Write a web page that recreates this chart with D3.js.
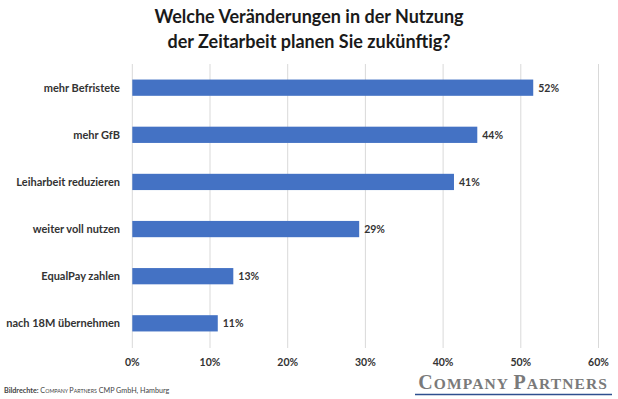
<!DOCTYPE html>
<html>
<head>
<meta charset="utf-8">
<script src="https://cdn.jsdelivr.net/npm/d3@7"></script>
<style>
  body { margin: 0; background: #fff; }
  svg { font-family: Lato, "Open Sans", sans-serif; }
</style>
</head>
<body>
<svg id="chart" width="618" height="399"></svg>
<script>
const categories = ["mehr Befristete", "mehr GfB", "Leiharbeit reduzieren",
                    "weiter voll nutzen", "EqualPay zahlen", "nach 18M übernehmen"]
const values = [51.6, 44.4, 41.4, 29.2, 13.0, 11.0]
const ticks = [0, 10, 20, 30, 40, 50, 60]
const titleLines = ["Welche Veränderungen in der Nutzung", "der Zeitarbeit planen Sie zukünftig?"]

const svg = d3.select("#chart")

let x = d3.scaleLinear().domain([0, 60]).range([132.3, 598.5])
let y = d3.scaleBand().domain(categories).range([64, 347]).paddingInner(0.655).paddingOuter(0.33)

// title
svg.append("g").selectAll("text")
  .data(titleLines)
  .enter().append("text")
  .attr("x", 309)
  .attr("y", (d, i) => 23 + i * 24.5)
  .attr("text-anchor", "middle")
  .attr("font-size", 18)
  .attr("font-weight", "bold")
  .attr("fill", "#1a1a1a")
  .text(d => d)

// grid
svg.append("g").selectAll("line")
  .data(ticks)
  .enter().append("line")
  .attr("x1", d => x(d)).attr("x2", d => x(d))
  .attr("y1", 64).attr("y2", 348)
  .attr("stroke", "#d9d9d9")
  .attr("stroke-width", 1)

// x axis labels
svg.append("g").selectAll("text")
  .data(ticks)
  .enter().append("text")
  .attr("x", d => x(d))
  .attr("y", 366)
  .attr("text-anchor", "middle")
  .attr("font-size", 10.5)
  .attr("font-weight", "bold")
  .attr("fill", "#333")
  .text(d => d + "%")

// bars
svg.append("g").selectAll("rect")
  .data(values)
  .enter().append("rect")
  .attr("x", x(0))
  .attr("y", (d, i) => y(categories[i]))
  .attr("width", d => x(d) - x(0))
  .attr("height", y.bandwidth())
  .attr("fill", "#4472c4")

// category labels
svg.append("g").selectAll("text")
  .data(categories)
  .enter().append("text")
  .attr("x", 120)
  .attr("y", d => y(d) + y.bandwidth() / 2 + 4)
  .attr("text-anchor", "end")
  .attr("font-size", 11)
  .attr("font-weight", "bold")
  .attr("fill", "#333")
  .text(d => d)

// value labels
svg.append("g").selectAll("text")
  .data(values)
  .enter().append("text")
  .attr("x", d => x(d) + 5)
  .attr("y", (d, i) => y(categories[i]) + y.bandwidth() / 2 + 4)
  .attr("font-size", 10.5)
  .attr("font-weight", "bold")
  .attr("fill", "#333")
  .text(d => Math.round(d) + "%")

// footer
let foot = svg.append("text")
  .attr("x", 4).attr("y", 393)
  .attr("font-size", 7.2)
  .attr("fill", "#444")
foot.append("tspan").attr("font-weight", "bold").text("Bildrechte: ")
foot.append("tspan").text("C").append("tspan").attr("font-size", 5.3).text("OMPANY ")
foot.append("tspan").text("P").append("tspan").attr("font-size", 5.3).text("ARTNERS")
foot.append("tspan").text(" CMP GmbH, Hamburg")

// logo
let logo = svg.append("text")
  .attr("x", 608).attr("y", 389)
  .attr("text-anchor", "end")
  .attr("font-family", "'Liberation Serif', 'DejaVu Serif', serif")
  .attr("font-weight", "bold")
  .attr("font-size", 20)
  .attr("letter-spacing", 1.1)
  .attr("fill", "#7a7a7a")
logo.append("tspan").text("C")
logo.append("tspan").attr("font-size", 15.5).text("OMPANY ")
logo.append("tspan").text("P")
logo.append("tspan").attr("font-size", 15.5).text("ARTNERS")

svg.append("line")
  .attr("x1", 415).attr("x2", 612)
  .attr("y1", 394.5).attr("y2", 394.5)
  .attr("stroke", "#2e4f8f")
  .attr("stroke-width", 1.5)
</script>
</body>
</html>
